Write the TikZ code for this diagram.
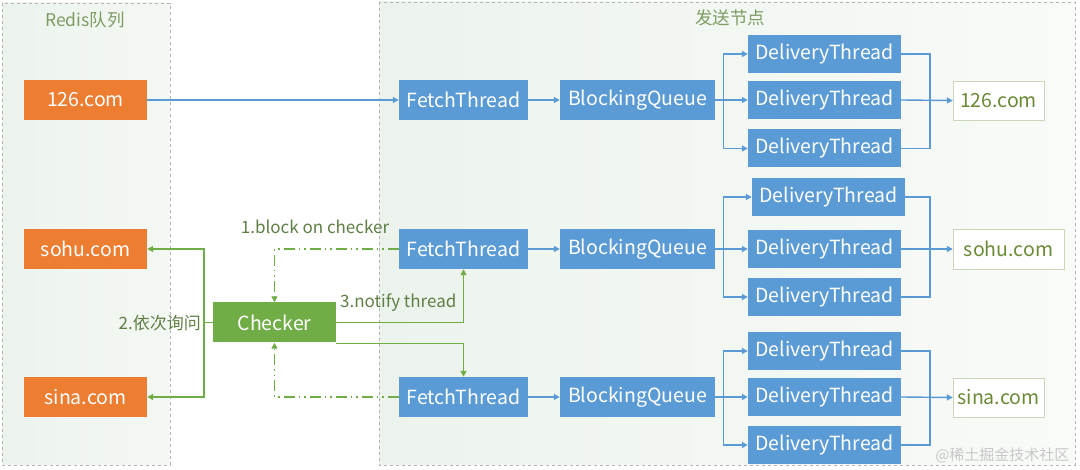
\documentclass[tikz,border=0pt]{standalone}
\usepackage{fontspec}
\setmainfont{Noto Sans CJK SC}
\usetikzlibrary{arrows.meta,calc}
\definecolor{cOrange}{HTML}{ED7D31}
\definecolor{cBlue}{HTML}{5B9BD5}
\definecolor{cGreen}{HTML}{70AD47}
\definecolor{cLabel}{HTML}{5F7F45}
\definecolor{cTitle}{HTML}{7D9C63}
\definecolor{cDest}{HTML}{6A8A35}
\definecolor{cBorder}{HTML}{B4B4B4}
\definecolor{cPanel}{HTML}{ECF3EC}
\tikzset{
  box/.style={rectangle,inner sep=0pt,text=white,font=\fontsize{19.5}{22}\selectfont},
  redisbox/.style={box,fill=cOrange,minimum width=123,minimum height=40},
  fetchbox/.style={box,fill=cBlue,minimum width=129,minimum height=40},
  queuebox/.style={box,fill=cBlue,minimum width=155,minimum height=40},
  deliverbox/.style={box,fill=cBlue,minimum width=153,minimum height=38},
  checkbox/.style={box,fill=cGreen,minimum width=123,minimum height=40},
  destbox/.style={rectangle,inner sep=0pt,draw=cDest!35,fill=white,text=cDest,minimum height=39,font=\fontsize{19.5}{22}\selectfont},
  bline/.style={draw=cBlue,line width=1.4pt},
  gline/.style={draw=cGreen,line width=1.4pt},
  tip/.style={-{Triangle[length=6pt,width=6pt]}},
  dd/.style={dash pattern=on 11pt off 4pt on 1.5pt off 4pt on 1.5pt off 4pt},
  lbl/.style={text=cLabel,font=\fontsize{17}{19}\selectfont,inner sep=0pt},
  panel/.style={draw=cBorder,dashed,line width=0.8pt},
}
\begin{document}
\begin{tikzpicture}[x=1pt,y=-1pt]
\useasboundingbox (0,0) rectangle (1080,470);
\fill[white] (0,0) rectangle (1080,470);
% panels
\shade[left color=cPanel,right color=cPanel!60!white] (2,3) rectangle (170,465);
\draw[panel] (2,3) rectangle (170,465);
\shade[left color=cPanel,right color=cPanel!35!white] (379,2) rectangle (1075,465);
\draw[panel] (379,2) rectangle (1075,465);
\node[text=cTitle,font=\fontsize{17.5}{19}\selectfont] (t1) at (85,20) {Redis队列};
\node[text=cTitle,font=\fontsize{17.5}{19}\selectfont] (t2) at (730,18) {发送节点};
% redis queues
\node[redisbox] (r1) at (85.5,100) {126.com};
\node[redisbox] (r2) at (85.5,249) {sohu.com};
\node[redisbox] (r3) at (85.5,397) {sina.com};
\node[checkbox] (chk) at (274.5,322.5) {Checker};
% fetch threads
\node[fetchbox] (f1) at (463.5,100) {FetchThread};
\node[fetchbox] (f2) at (463.5,249) {FetchThread};
\node[fetchbox] (f3) at (463.5,397) {FetchThread};
\node[queuebox] (q1) at (637.5,100) {BlockingQueue};
\node[queuebox] (q2) at (637.5,249) {BlockingQueue};
\node[queuebox] (q3) at (637.5,397) {BlockingQueue};
% delivery threads
\node[deliverbox] (d11) at (824.5,54) {DeliveryThread};
\node[deliverbox] (d12) at (824.5,100) {DeliveryThread};
\node[deliverbox] (d13) at (824.5,148.5) {DeliveryThread};
\node[deliverbox] (d21) at (828.5,197) {DeliveryThread};
\node[deliverbox] (d22) at (824.5,249) {DeliveryThread};
\node[deliverbox] (d23) at (824.5,297) {DeliveryThread};
\node[deliverbox] (d31) at (824.5,351) {DeliveryThread};
\node[deliverbox] (d32) at (824.5,397) {DeliveryThread};
\node[deliverbox] (d33) at (824.5,445) {DeliveryThread};
% destinations
\node[destbox,minimum width=91] (e1) at (998.5,100.5) {126.com};
\node[destbox,minimum width=111,minimum height=40] (e2) at (1008.5,249) {sohu.com};
\node[destbox,minimum width=91] (e3) at (998.5,397.5) {sina.com};
% connectors
\draw[bline,tip] (r1) -- (f1);
\foreach \i in {1,2,3}{
  \draw[bline,tip] (f\i) -- (q\i);
  \coordinate (s\i) at ($(q\i.east)+(8,0)$);
  \draw[bline] (q\i.east) -- (s\i);
  \draw[bline,tip] (s\i) |- (d\i1.west);
  \draw[bline,tip] (s\i) |- (d\i3.west);
  \draw[bline,tip] (s\i) -- (d\i2.west);
  \coordinate (m\i) at (930,0);
  \draw[bline] (d\i1.east) -| (m\i |- d\i3.east) -- (d\i3.east);
  \draw[bline,tip] (d\i2.east) -- (e\i.west);
}
% checker connections
\coordinate (g) at (204,322.5);
\draw[gline] (chk.west) -- (g);
\draw[gline,tip] (g) |- (r2.east);
\draw[gline,tip] (g) |- (r3.east);
\node[lbl,anchor=east] (l2) at (201,323) {2.依次询问};
\draw[gline,tip] (chk.east) -| (f2.south);
\draw[gline,tip] ([yshift=-1]chk.south east) -| (f3.north);
\node[lbl,anchor=west] (l3) at (340,303) {3.notify thread};
\draw[gline,dd,tip] (f2.west) -| (chk.north);
\draw[gline,dd,tip] (f3.west) -| (chk.south);
\node[lbl] (l1) at (315,227) {1.block on checker};
% watermark
\node[text=black!22,font=\fontsize{15}{17}\selectfont,anchor=east] (wm) at (1073,455) {@稀土掘金技术社区};
\end{tikzpicture}
\end{document}
